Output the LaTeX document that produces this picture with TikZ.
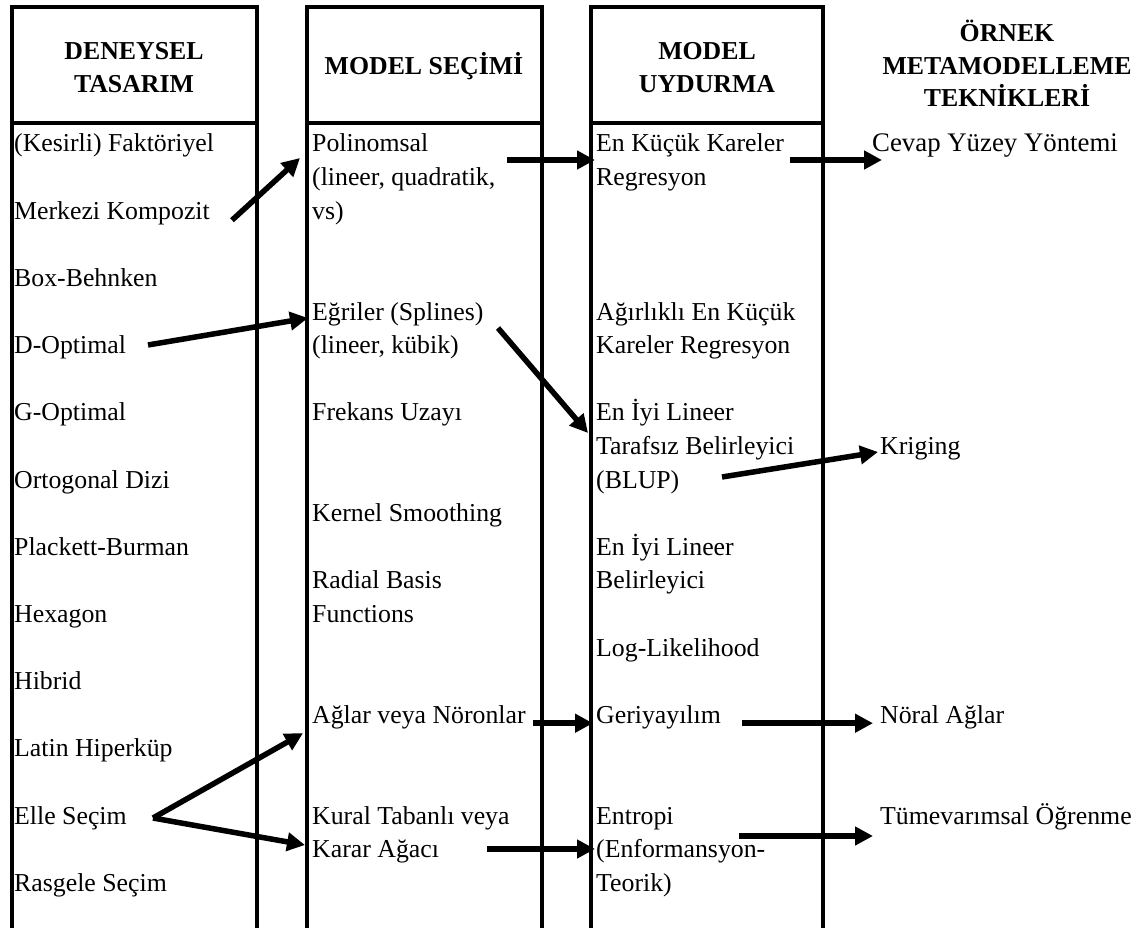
\documentclass[tikz,border=0pt]{standalone}
\usepackage{fontspec}
\setmainfont{Liberation Serif}
\usetikzlibrary{arrows.meta,calc}

% baseline of text row k in the body of the table
\newcommand{\rowy}[1]{152+33.6*#1}

\tikzset{
  colrule/.style={line width=4pt, line join=miter},
  itemtext/.style={anchor=base west, inner sep=0pt, font=\fontsize{25.8}{33.6}\selectfont},
  headtext/.style={anchor=base, inner sep=0pt, font=\fontsize{25.8}{33.6}\selectfont\bfseries},
  link/.style={line width=5.5pt, -{Triangle[length=18pt,width=18pt]}},
}

\begin{document}
\begin{tikzpicture}[x=1pt,y=-1pt]
\useasboundingbox (0,0) rectangle (1146,928);
\fill[white] (0,0) rectangle (1146,928);

% column frames: header box on top, open sides running to the bottom
\draw[colrule] (11.5,928) -- (11.5,7) -- (257,7) -- (257,928);
\draw[colrule] (11.5,123) -- (257,123);
\draw[colrule] (307,928) -- (307,7) -- (541.5,7) -- (541.5,928);
\draw[colrule] (307,123) -- (541.5,123);
\draw[colrule] (591,928) -- (591,7) -- (823,7) -- (823,928);
\draw[colrule] (591,123) -- (823,123);

% headers
\node[headtext] (h1a) at (134,60) {DENEYSEL};
\node[headtext] (h1b) at (134,92.5) {TASARIM};
\node[headtext] (h2) at (424,75) {MODEL SEÇİMİ};
\node[headtext] (h3a) at (707,60) {MODEL};
\node[headtext] (h3b) at (707,93) {UYDURMA};
\node[headtext] (h4a) at (1007,42) {ÖRNEK};
\node[headtext] (h4b) at (1007,75) {METAMODELLEME};
\node[headtext] (h4c) at (1007,107) {TEKNİKLERİ};

% experimental designs
\node[itemtext] (kes)  at (14,{\rowy{0}})  {(Kesirli) Faktöriyel};
\node[itemtext] (mer)  at (14,{\rowy{2}})  {Merkezi Kompozit};
\node[itemtext] (box)  at (14,{\rowy{4}})  {Box-Behnken};
\node[itemtext] (dopt) at (14,{\rowy{6}})  {D-Optimal};
\node[itemtext] (gopt) at (14,{\rowy{8}})  {G-Optimal};
\node[itemtext] (ort)  at (14,{\rowy{10}}) {Ortogonal Dizi};
\node[itemtext] (pla)  at (14,{\rowy{12}}) {Plackett-Burman};
\node[itemtext] (hex)  at (14,{\rowy{14}}) {Hexagon};
\node[itemtext] (hib)  at (14,{\rowy{16}}) {Hibrid};
\node[itemtext] (lat)  at (14,{\rowy{18}}) {Latin Hiperküp};
\node[itemtext] (elle) at (14,{\rowy{20}}) {Elle Seçim};
\node[itemtext] (ras)  at (14,{\rowy{22}}) {Rasgele Seçim};

% model choices
\node[itemtext] (pol1) at (312,{\rowy{0}})  {Polinomsal};
\node[itemtext] (pol2) at (312,{\rowy{1}})  {(lineer, quadratik,};
\node[itemtext] (pol3) at (312,{\rowy{2}})  {vs)};
\node[itemtext] (egr1) at (312,{\rowy{5}})  {Eğriler (Splines)};
\node[itemtext] (egr2) at (312,{\rowy{6}})  {(lineer, kübik)};
\node[itemtext] (frek) at (312,{\rowy{8}})  {Frekans Uzayı};
\node[itemtext] (kern) at (312,{\rowy{11}}) {Kernel Smoothing};
\node[itemtext] (rad1) at (312,{\rowy{13}}) {Radial Basis};
\node[itemtext] (rad2) at (312,{\rowy{14}}) {Functions};
\node[itemtext] (agl)  at (312,{\rowy{17}}) {Ağlar veya Nöronlar};
\node[itemtext] (kur1) at (312,{\rowy{20}}) {Kural Tabanlı veya};
\node[itemtext] (kur2) at (312,{\rowy{21}}) {Karar Ağacı};

% model fitting
\node[itemtext] (enk1)  at (596,{\rowy{0}})  {En Küçük Kareler};
\node[itemtext] (enk2)  at (596,{\rowy{1}})  {Regresyon};
\node[itemtext] (agr1)  at (596,{\rowy{5}})  {Ağırlıklı En Küçük};
\node[itemtext] (agr2)  at (596,{\rowy{6}})  {Kareler Regresyon};
\node[itemtext] (blup1) at (596,{\rowy{8}})  {En İyi Lineer};
\node[itemtext] (blup2) at (596,{\rowy{9}})  {Tarafsız Belirleyici};
\node[itemtext] (blup3) at (596,{\rowy{10}}) {(BLUP)};
\node[itemtext] (blp1)  at (596,{\rowy{12}}) {En İyi Lineer};
\node[itemtext] (blp2)  at (596,{\rowy{13}}) {Belirleyici};
\node[itemtext] (logl)  at (596,{\rowy{15}}) {Log-Likelihood};
\node[itemtext] (geri)  at (596,{\rowy{17}}) {Geriyayılım};
\node[itemtext] (ent1)  at (596,{\rowy{20}}) {Entropi};
\node[itemtext] (ent2)  at (596,{\rowy{21}}) {(Enformansyon-};
\node[itemtext] (ent3)  at (596,{\rowy{22}}) {Teorik)};

% resulting metamodelling techniques
\node[itemtext, font=\fontsize{26.8}{33.6}\selectfont] (cevap) at (872,{\rowy{0}}) {Cevap Yüzey Yöntemi};
\node[itemtext] (krig)  at (880,{\rowy{9}})  {Kriging};
\node[itemtext] (noral) at (880,{\rowy{17}}) {Nöral Ağlar};
\node[itemtext] (tume)  at (880,{\rowy{20}}) {Tümevarımsal Öğrenme};

% links between the stages
\draw[link] ($(mer.base west)+(218,1)$)    -- ($(pol1.base west)+(-12,6)$);
\draw[link] ($(pol1.base west)+(195,8)$)   -- ($(enk1.base west)+(-1,8)$);
\draw[link] ($(enk1.base west)+(194,8)$)   -- ($(cevap.base west)+(10,8)$);
\draw[link] ($(dopt.base west)+(134,-8.6)$) -- ($(egr1.base west)+(-4,-2)$);
\draw[link] ($(egr1.base west)+(186,8)$)   -- ($(blup1.base west)+(-8,12.2)$);
\draw[link] ($(blup3.base west)+(126,-11)$) -- ($(krig.base west)+(-2,-2.4)$);
\draw[link] ($(agl.base west)+(221,0)$)    -- ($(geri.base west)+(-3,0)$);
\draw[link] ($(geri.base west)+(146,0)$)   -- ($(noral.base west)+(-7,0)$);
\draw[link] ($(elle.base west)+(139,-6)$)  -- ($(agl.base west)+(-9,10)$);
\draw[link] ($(elle.base west)+(139,-6)$)  -- ($(kur2.base west)+(-7,-12.6)$);
\draw[link] ($(kur2.base west)+(175,-8.6)$) -- ($(ent2.base west)+(-1,-8.6)$);
\draw[link] ($(ent1.base west)+(143,12)$)  -- ($(tume.base west)+(-7,12)$);
\end{tikzpicture}
\end{document}
